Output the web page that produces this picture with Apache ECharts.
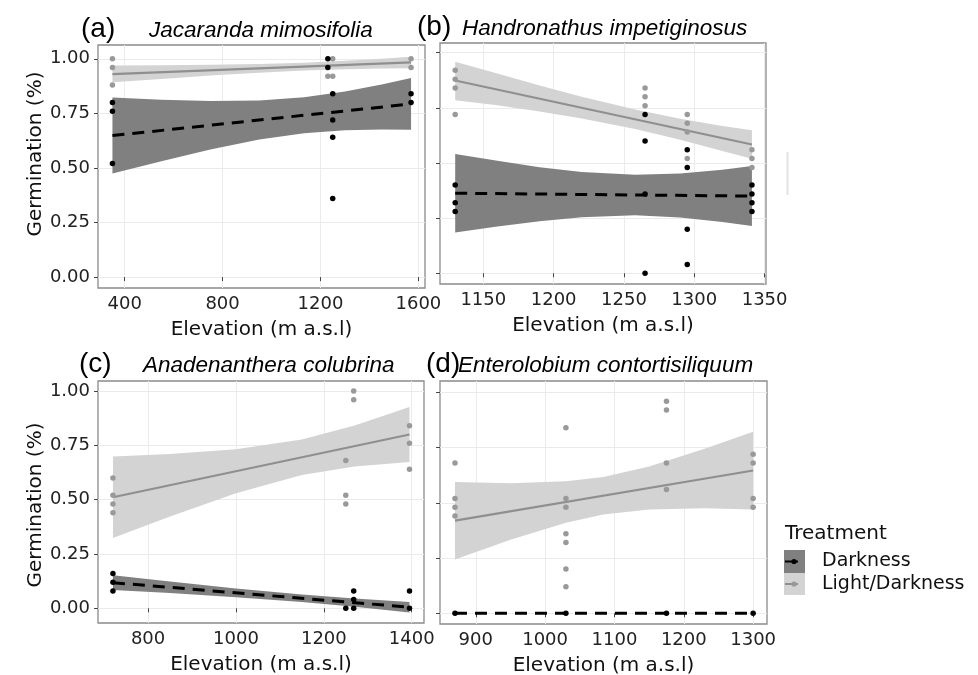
<!DOCTYPE html>
<html>
<head>
<meta charset="utf-8">
<script src="https://cdn.jsdelivr.net/npm/echarts@6/dist/echarts.min.js"></script>
<style>html,body{margin:0;padding:0;background:#fff;}#c{width:978px;height:675px;}</style>
</head>
<body>
<div id="c"></div>
<script>
// ---------- data ----------
// Panel (a) Jacaranda mimosifolia
const aLightPts = [[350,1.00],[350,0.96],[350,0.88],[1230,0.92],[1250,1.00],[1250,0.92],[1570,1.00],[1570,0.96]];
const aDarkPts  = [[350,0.80],[350,0.76],[350,0.52],[1230,1.00],[1230,0.96],[1250,0.84],[1250,0.72],[1250,0.64],[1250,0.36],[1570,0.84],[1570,0.80]];
const aLightFit = [[350,0.930],[1570,0.983]];
const aDarkFit  = [[350,0.648],[1570,0.793]];
const aLightBand = [[350,0.892,0.969],[550,0.907,0.970],[750,0.923,0.972],[950,0.936,0.976],[1133,0.946,0.982],[1300,0.952,0.991],[1450,0.955,1.000],[1570,0.957,1.009]];
const aDarkBand  = [[350,0.475,0.822],[550,0.531,0.812],[750,0.584,0.807],[950,0.630,0.809],[1133,0.659,0.824],[1300,0.672,0.850],[1450,0.676,0.882],[1570,0.675,0.912]];
const aXTicks = [400,800,1200,1600];

// Panel (b) Handronathus impetiginosus
const bLightPts = [[1130,0.92],[1130,0.88],[1130,0.84],[1130,0.72],[1265,0.84],[1265,0.80],[1265,0.76],[1295,0.72],[1295,0.68],[1295,0.64],[1295,0.52],[1341,0.56],[1341,0.52],[1341,0.48]];
const bDarkPts  = [[1130,0.40],[1130,0.32],[1130,0.28],[1265,0.72],[1265,0.60],[1265,0.36],[1265,0.00],[1295,0.56],[1295,0.48],[1295,0.20],[1295,0.04],[1341,0.40],[1341,0.36],[1341,0.32],[1341,0.28]];
const bLightFit = [[1130,0.874],[1341,0.584]];
const bDarkFit  = [[1130,0.363],[1341,0.350]];
const bLightBand = [[1130,0.785,0.959],[1160,0.762,0.906],[1190,0.733,0.851],[1220,0.702,0.800],[1258,0.654,0.742],[1290,0.605,0.701],[1320,0.554,0.668],[1341,0.519,0.649]];
const bDarkBand  = [[1130,0.185,0.541],[1160,0.212,0.510],[1190,0.236,0.481],[1220,0.254,0.459],[1258,0.263,0.447],[1290,0.253,0.452],[1320,0.233,0.469],[1341,0.214,0.486]];
const bXTicks = [1150,1200,1250,1300,1350];

// Panel (c) Anadenanthera colubrina
const cLightPts = [[720,0.60],[720,0.52],[720,0.48],[720,0.44],[1250,0.68],[1250,0.52],[1250,0.48],[1268,1.00],[1268,0.96],[1395,0.84],[1395,0.76],[1395,0.64]];
const cDarkPts  = [[720,0.16],[720,0.12],[720,0.08],[1250,0.00],[1268,0.08],[1268,0.04],[1268,0.00],[1395,0.08],[1395,0.00]];
const cLightFit = [[720,0.511],[1395,0.800]];
const cDarkFit  = [[720,0.118],[1395,0.005]];
const cLightBand = [[720,0.323,0.699],[850,0.423,0.710],[1000,0.530,0.732],[1150,0.613,0.777],[1270,0.652,0.841],[1395,0.673,0.926]];
const cDarkBand  = [[720,0.084,0.152],[850,0.070,0.123],[1000,0.051,0.091],[1150,0.029,0.063],[1270,0.007,0.045],[1395,-0.019,0.029]];
const cXTicks = [800,1000,1200,1400];

// Panel (d) Enterolobium contortisiliquum
const dLightPts = [[870,0.68],[870,0.52],[870,0.48],[870,0.44],[1030,0.84],[1030,0.52],[1030,0.48],[1030,0.36],[1030,0.32],[1030,0.20],[1030,0.12],[1175,0.96],[1175,0.92],[1175,0.68],[1175,0.56],[1300,0.72],[1300,0.68],[1300,0.52],[1300,0.48]];
const dDarkPts  = [[870,0.00],[1030,0.00],[1175,0.00],[1300,0.00]];
const dLightFit = [[870,0.419],[1300,0.646]];
const dDarkFit  = [[870,0.000],[1300,0.000]];
const dLightBand = [[870,0.244,0.594],[950,0.333,0.589],[1030,0.410,0.597],[1084,0.447,0.617],[1150,0.470,0.664],[1230,0.475,0.744],[1300,0.470,0.822]];
const dXTicks = [900,1000,1100,1200,1300];

const yTicks = [0,0.25,0.5,0.75,1];
const panelTags = ['(a)','(b)','(c)','(d)'];
const species = ['Jacaranda mimosifolia','Handronathus impetiginosus','Anadenanthera colubrina','Enterolobium contortisiliquum'];
const xTitle = 'Elevation (m a.s.l)';
const yTitle = 'Germination (%)';
const legendTitle = 'Treatment';
const treatments = ['Darkness','Light/Darkness'];

// ---------- styling / layout ----------
const FONT = 'DejaVu Sans';
const TFONT = '"Liberation Sans", Arial, sans-serif';
const DARK_FILL = '#808080', LIGHT_FILL = '#d3d3d3', GRAY = '#999999', GRAY_LINE = '#8f8f8f';

const grids = [
  {left:98, top:45, width:327, height:243},
  {left:440, top:43, width:326, height:241},
  {left:98, top:381, width:326, height:242},
  {left:440, top:381, width:327, height:243}
];
const xRanges = [[291,1627],[1119.2,1351],[686,1428],[848.4,1320]];
const yRanges = [[-0.05,1.063],[-0.0485,1.044],[-0.0676,1.046],[-0.0484,1.0511]];
const xTicksAll = [aXTicks,bXTicks,cXTicks,dXTicks];

const chart = echarts.init(document.getElementById('c'), null, {renderer:'canvas'});

const xAxes = grids.map((g,i)=>({
  type:'value', gridIndex:i, min:xRanges[i][0], max:xRanges[i][1],
  axisLine:{show:false},
  axisTick:{show:true, length:4, customValues:xTicksAll[i], lineStyle:{color:'#444', width:1}},
  axisLabel:{customValues:xTicksAll[i], margin:7, fontSize:18, fontFamily:FONT, color:'#222',
             formatter:v=>String(v)},
  splitLine:{show:true, lineStyle:{color:'#ebebeb', width:1}},
  name:xTitle, nameLocation:'middle', nameGap:32,
  nameTextStyle:{fontSize:20, fontFamily:FONT, color:'#111'}
}));
const yAxes = grids.map((g,i)=>({
  type:'value', gridIndex:i, min:yRanges[i][0], max:yRanges[i][1],
  axisLine:{show:false},
  axisTick:{show:true, length:4, customValues:yTicks, lineStyle:{color:'#444', width:1}},
  axisLabel:{show: i%2===0, customValues:yTicks, margin:8, fontSize:18, fontFamily:FONT, color:'#222',
             formatter:v=>v.toFixed(2)},
  splitLine:{show:true, lineStyle:{color:'#ebebeb', width:1}}
}));

function band(i, rows, color){
  return {
    type:'custom', xAxisIndex:i, yAxisIndex:i, silent:true, z:1, clip:true,
    data: rows, encode:{x:0, y:[1,2]},
    renderItem:function(params, api){
      if (params.dataIndex !== 0) return null;
      const top = rows.map(r=>api.coord([r[0], r[2]]));
      const bot = rows.slice().reverse().map(r=>api.coord([r[0], r[1]]));
      return {type:'polygon', shape:{points: top.concat(bot)}, style:{fill:color}};
    }
  };
}
function fit(i, rows, color, width, type){
  return {type:'line', xAxisIndex:i, yAxisIndex:i, data:rows, showSymbol:false, silent:true, z:3,
          lineStyle:{color:color, width:width, type:type, cap:'butt'}};
}
function pts(i, rows, color, z){
  return {type:'scatter', xAxisIndex:i, yAxisIndex:i, data:rows, symbolSize:5.5, silent:true, z:z,
          itemStyle:{color:color, opacity:1}};
}

const series = [];
const panels = [
  {lp:aLightPts, dp:aDarkPts, lf:aLightFit, df:aDarkFit, lb:aLightBand, db:aDarkBand},
  {lp:bLightPts, dp:bDarkPts, lf:bLightFit, df:bDarkFit, lb:bLightBand, db:bDarkBand},
  {lp:cLightPts, dp:cDarkPts, lf:cLightFit, df:cDarkFit, lb:cLightBand, db:cDarkBand},
  {lp:dLightPts, dp:dDarkPts, lf:dLightFit, df:dDarkFit, lb:dLightBand, db:null}
];
panels.forEach((p,i)=>{
  if (p.db) series.push(band(i, p.db, DARK_FILL));
  series.push(band(i, p.lb, LIGHT_FILL));
  series.push(pts(i, p.lp, GRAY, 4));
  series.push(pts(i, p.dp, '#000', 5));
  series.push(fit(i, p.lf, GRAY_LINE, 2.2, 'solid'));
  series.push(fit(i, p.df, '#000', 3, [12,8]));
});

// titles, y-axis titles, legend
const tagPos = [[81,29],[417,27],[79,364],[426,364]];
const spPos  = [[149,31],[462,29],[143,366],[458,366]];
const graphic = [];
panelTags.forEach((t,i)=>{
  graphic.push({type:'text', x:tagPos[i][0], y:tagPos[i][1], silent:true,
    style:{text:t, font:'28px '+TFONT, fill:'#000', textAlign:'left', textVerticalAlign:'middle'}});
  graphic.push({type:'text', x:spPos[i][0], y:spPos[i][1], silent:true,
    style:{text:species[i], font:'italic 22.5px '+TFONT, fill:'#000', textAlign:'left', textVerticalAlign:'middle'}});
});
[[36,154],[36,505]].forEach(p=>{
  graphic.push({type:'text', x:p[0], y:p[1], rotation:Math.PI/2, silent:true,
    style:{text:yTitle, font:'20px '+FONT, fill:'#111', textAlign:'center', textVerticalAlign:'middle'}});
});
// legend
graphic.push({type:'text', x:785, y:534, silent:true,
  style:{text:legendTitle, font:'20px '+FONT, fill:'#111', textAlign:'left', textVerticalAlign:'middle'}});
graphic.push({type:'rect', shape:{x:784, y:550, width:21, height:23}, style:{fill:DARK_FILL}, silent:true});
graphic.push({type:'rect', shape:{x:784, y:573, width:21, height:22}, style:{fill:LIGHT_FILL}, silent:true});
graphic.push({type:'line', shape:{x1:785, y1:561.5, x2:798, y2:561.5}, style:{stroke:'#000', lineWidth:2}, silent:true});
graphic.push({type:'circle', shape:{cx:794, cy:561.5, r:2.6}, style:{fill:'#000'}, silent:true});
graphic.push({type:'line', shape:{x1:785, y1:584, x2:798, y2:584}, style:{stroke:GRAY_LINE, lineWidth:2}, silent:true});
graphic.push({type:'circle', shape:{cx:794, cy:584, r:2.6}, style:{fill:GRAY}, silent:true});
treatments.forEach((t,k)=>{
  graphic.push({type:'text', x:822, y:[561.5,584][k], silent:true,
    style:{text:t, font:'19px '+FONT, fill:'#111', textAlign:'left', textVerticalAlign:'middle'}});
});
// faint artefact at right of panel (b)
graphic.push({type:'rect', shape:{x:786.5, y:152, width:2, height:43}, style:{fill:'#e2e2e2'}, silent:true});

chart.setOption({
  animation:false,
  backgroundColor:'#ffffff',
  grid: grids.map(g=>Object.assign({show:true, borderColor:'#8a8a8a', borderWidth:1.3, backgroundColor:'#fff', containLabel:false, outerBoundsMode:'none'}, g)),
  xAxis:xAxes, yAxis:yAxes, series:series, graphic:graphic
});
</script>
</body>
</html>
